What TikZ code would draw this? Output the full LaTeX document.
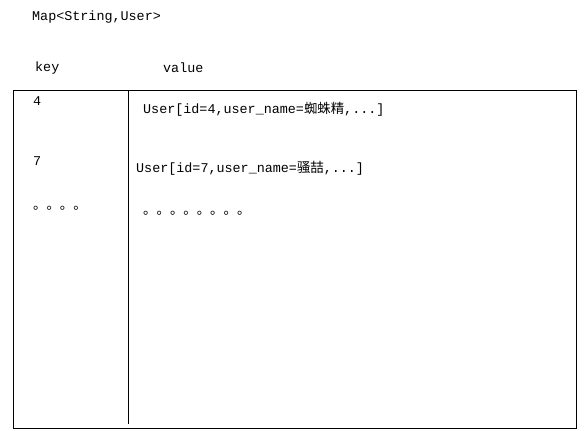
\documentclass[tikz,border=0pt]{standalone}
\usepackage{fontspec}
\setmonofont{Liberation Mono}
\newfontfamily\cjk{Noto Sans CJK SC}
\begin{document}
\begin{tikzpicture}[x=1pt,y=-1pt,
  txt/.style={anchor=west,inner sep=0pt,font=\ttfamily\fontsize{13.4}{13.4}\selectfont}]
\useasboundingbox (0,0) rectangle (587,431);
\draw[line width=1pt] (13,90) rectangle (576,428);
\coordinate (dtop) at (128,90);
\coordinate (dbot) at (128,424);
\draw[line width=1pt] (dtop) -- (dbot);
\node[txt] (title) at (32,17) {Map<String,User>};
\node[txt] (key) at (35,68) {key};
\node[txt] (value) at (163,68) {value};
\node[txt] (k4) at (33,101) {4};
\node[txt] (v4) at (143,109) {User[id=4,user\_name={\cjk 蜘蛛精},...]};
\node[txt] (k7) at (33,161) {7};
\node[txt] (v7) at (136,168) {User[id=7,user\_name={\cjk 骚喆},...]};
\node[txt] (kd) at (33,208) {{\cjk 。。。。}};
\node[txt] (vd) at (143,213) {{\cjk 。。。。。。。。}};
\end{tikzpicture}
\end{document}
